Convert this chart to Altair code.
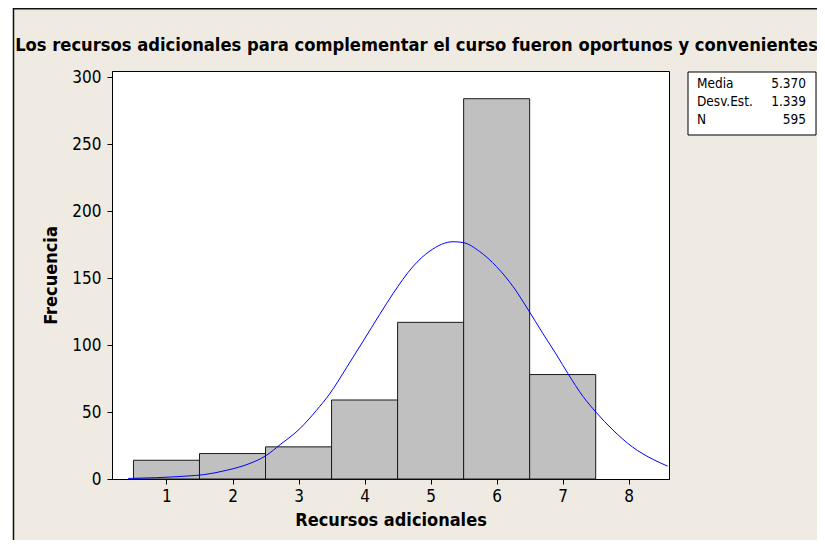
import altair as alt
import pandas as pd

# ---- data ----
categories = [1, 2, 3, 4, 5, 6, 7]
counts = [14, 19, 24, 59, 117, 284, 78]

curve_x = [0.42, 0.85, 1.31, 1.56, 1.91, 2.16, 2.52, 2.72, 3.02, 3.27, 3.47, 3.73,
           3.98, 4.23, 4.43, 4.73, 4.99, 5.34, 5.49, 5.74, 6.00, 6.25, 6.48, 6.70,
           6.91, 7.08, 7.31, 7.51, 7.76, 8.06, 8.37, 8.59]
curve_y = [0.4, 1.0, 2.2, 3.2, 6.5, 9.8, 17.9, 25.6, 37.6, 51.2, 63.5, 83.4,
           103.1, 123.0, 138.4, 158.5, 170.3, 177.2, 176.6, 170.0, 158.5, 143.6, 126.2, 108.7,
           92.5, 78.7, 61.5, 49.6, 36.6, 23.8, 14.6, 9.6]

x_ticks = [1, 2, 3, 4, 5, 6, 7, 8]
y_ticks = [0, 50, 100, 150, 200, 250, 300]

stat_labels = ["Media", "Desv.Est.", "N"]
stat_values = ["5.370", "1.339", "595"]

title_text = "Los recursos adicionales para complementar el curso fueron oportunos y convenientes"
x_title = "Recursos adicionales"
y_title = "Frecuencia"

FONT = "DejaVu Sans Condensed, Liberation Sans, sans-serif"
BG = "#EFEBE2"

bars_df = pd.DataFrame({"valor": categories, "frecuencia": counts})
bars_df["lo"] = bars_df["valor"] - 0.5
bars_df["hi"] = bars_df["valor"] + 0.5
curve_df = pd.DataFrame({"x": curve_x, "y": curve_y})

xscale = alt.Scale(domain=[0.175, 8.61], nice=False, zero=False)
yscale = alt.Scale(domain=[0, 304.7], nice=False)

bars = alt.Chart(bars_df).mark_rect(
    fill="#C0C0C0", stroke="#1a1a1a", strokeWidth=1
).encode(
    x=alt.X("lo:Q", scale=xscale,
            axis=alt.Axis(values=x_ticks, title=x_title, format="d")),
    x2="hi:Q",
    y=alt.Y("frecuencia:Q", scale=yscale,
            axis=alt.Axis(values=y_ticks, title=y_title, format="d")),
    y2=alt.datum(0),
)

curve = alt.Chart(curve_df).mark_line(
    color="#0000FF", strokeWidth=1, interpolate="monotone", clip=True
).encode(
    x=alt.X("x:Q", scale=xscale),
    y=alt.Y("y:Q", scale=yscale),
)

one = pd.DataFrame({"k": [0]})

# title as a text annotation
title = alt.Chart(pd.DataFrame({"t": [title_text]})).mark_text(
    align="center", baseline="alphabetic", font=FONT, fontSize=18.2,
    fontWeight="bold", color="black"
).encode(x=alt.value(304.5), y=alt.value(-20), text="t:N")

# stats box
box = alt.Chart(one).mark_rect(fill="white", stroke="black", strokeWidth=1).encode(
    x=alt.value(576), x2=alt.value(704), y=alt.value(1), y2=alt.value(64)
)
stat_layers = []
for i, (lab, val) in enumerate(zip(stat_labels, stat_values)):
    ypos = 17 + i * 18
    stat_layers.append(
        alt.Chart(pd.DataFrame({"t": [lab]})).mark_text(
            align="left", baseline="alphabetic", font=FONT, fontSize=13.5, color="black"
        ).encode(x=alt.value(585), y=alt.value(ypos), text="t:N")
    )
    stat_layers.append(
        alt.Chart(pd.DataFrame({"t": [val]})).mark_text(
            align="right", baseline="alphabetic", font=FONT, fontSize=13.5, color="black"
        ).encode(x=alt.value(694), y=alt.value(ypos), text="t:N")
    )

# outer frame (decoration)
white_strip = alt.Chart(one).mark_rule(color="white", strokeWidth=5).encode(
    x=alt.value(-102), y=alt.value(-63), y2=alt.value(469)
)
frame_left = alt.Chart(one).mark_rule(color="#111", strokeWidth=1.5).encode(
    x=alt.value(-98.5), y=alt.value(-63), y2=alt.value(469)
)
frame_top = alt.Chart(one).mark_rule(color="#111", strokeWidth=1.5).encode(
    x=alt.value(-99), x2=alt.value(705), y=alt.value(-62.3)
)

chart = alt.layer(
    bars, curve, box, *stat_layers, title, white_strip, frame_left, frame_top
).properties(
    width=557,
    height=408,
    autosize=alt.AutoSizeParams(type="none"),
    padding={"left": 104, "top": 63, "right": 148, "bottom": 61},
).configure(
    background=BG,
).configure_view(
    fill="white", stroke="black", strokeWidth=1
).configure_axis(
    grid=False,
    domain=True, domainColor="black",
    ticks=True, tickColor="black", tickSize=5,
    labelFont=FONT, labelFontSize=17, labelColor="black", labelPadding=5,
    titleFont=FONT, titleFontSize=18, titleFontWeight="bold", titleColor="black",
).configure_axisY(
    titlePadding=11, labelPadding=6,
).configure_axisX(
    titlePadding=7, labelPadding=4,
)

chart.save("out.html", embed_options={"renderer": "svg", "actions": False})
